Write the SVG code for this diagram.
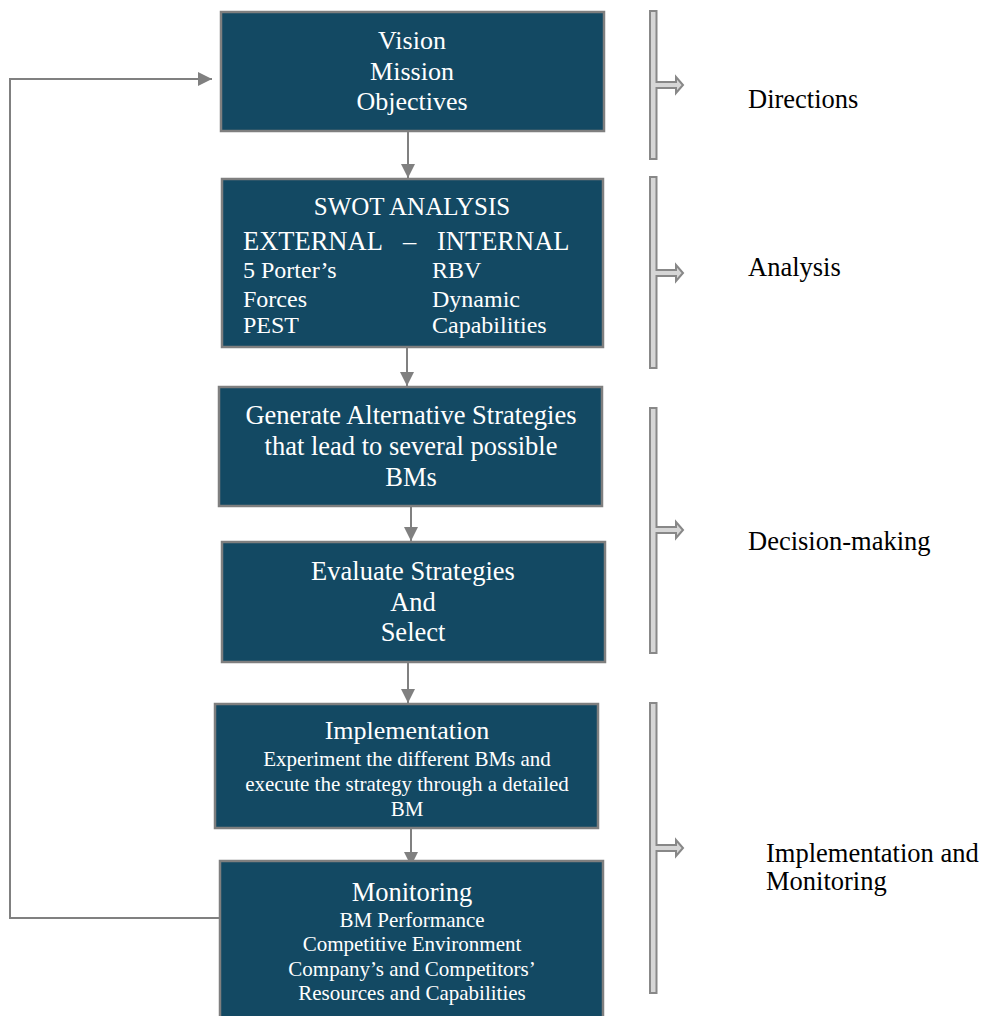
<svg xmlns="http://www.w3.org/2000/svg" width="982" height="1016" viewBox="0 0 982 1016">
<style>
.box{fill:#134963;stroke:#7f7f7f;stroke-width:2.5}
.t{font-family:"Liberation Serif","Times New Roman",serif;fill:#ffffff;text-anchor:middle}
.tl{font-family:"Liberation Serif","Times New Roman",serif;fill:#ffffff}
.lab{font-family:"Liberation Serif","Times New Roman",serif;fill:#000000;font-size:26.5px}
.conn{fill:none;stroke:#808080;stroke-width:2}
.brk{fill:#d6d6d6;stroke:#888888;stroke-width:2;stroke-linejoin:miter}
</style>
<defs>
<marker id="ah" viewBox="0 0 14 14" refX="14" refY="7" markerWidth="14" markerHeight="14" markerUnits="userSpaceOnUse" orient="auto">
<path d="M0,0 L14,7 L0,14 Z" fill="#808080"/>
</marker>
</defs>
<rect width="982" height="1016" fill="#ffffff"/>

<g id="connectors">
<path class="conn" d="M408,131 V178" marker-end="url(#ah)"/>
<path class="conn" d="M407,347 V386" marker-end="url(#ah)"/>
<path class="conn" d="M411,506 V541" marker-end="url(#ah)"/>
<path class="conn" d="M408,662 V703" marker-end="url(#ah)"/>
<path class="conn" d="M411,828 V866" marker-end="url(#ah)"/>
<path class="conn" d="M220,918 H10 V79 H212" marker-end="url(#ah)"/>
</g>

<g id="node-vision">
<rect class="box" x="221" y="12" width="383" height="119"/>
<text class="t" font-size="26" x="412" y="49">Vision</text>
<text class="t" font-size="26" x="412" y="80">Mission</text>
<text class="t" font-size="26" x="412" y="110">Objectives</text>
</g>

<g id="node-swot">
<rect class="box" x="222" y="179" width="381" height="168"/>
<text class="t" font-size="25" x="412" y="215">SWOT ANALYSIS</text>
<text class="tl" font-size="26.5" x="243" y="250">EXTERNAL</text>
<text class="tl" font-size="26.5" x="403" y="250">–</text>
<text class="tl" font-size="26.5" x="437" y="250">INTERNAL</text>
<text class="tl" font-size="24" x="243" y="278">5 Porter’s</text>
<text class="tl" font-size="24" x="243" y="307">Forces</text>
<text class="tl" font-size="24" x="243" y="333">PEST</text>
<text class="tl" font-size="24" x="432" y="278">RBV</text>
<text class="tl" font-size="24" x="432" y="307">Dynamic</text>
<text class="tl" font-size="24" x="432" y="333">Capabilities</text>
</g>

<g id="node-generate">
<rect class="box" x="219" y="387" width="383" height="119"/>
<text class="t" font-size="26.5" x="411" y="424">Generate Alternative Strategies</text>
<text class="t" font-size="26.5" x="411" y="455">that lead to several possible</text>
<text class="t" font-size="26.5" x="411" y="486">BMs</text>
</g>

<g id="node-evaluate">
<rect class="box" x="222" y="542" width="383" height="120"/>
<text class="t" font-size="26.5" x="413" y="580">Evaluate Strategies</text>
<text class="t" font-size="26.5" x="413" y="611">And</text>
<text class="t" font-size="26.5" x="413" y="641">Select</text>
</g>

<g id="node-implementation">
<rect class="box" x="215" y="704" width="383" height="124"/>
<text class="t" font-size="26" x="407" y="739">Implementation</text>
<text class="t" font-size="21" x="407" y="766">Experiment the different BMs and</text>
<text class="t" font-size="21" x="407" y="791">execute the strategy through a detailed</text>
<text class="t" font-size="21" x="407" y="816">BM</text>
</g>

<g id="node-monitoring">
<rect class="box" x="220" y="861" width="383" height="170"/>
<text class="t" font-size="26.5" x="412" y="901">Monitoring</text>
<text class="t" font-size="21" x="412" y="927">BM Performance</text>
<text class="t" font-size="21" x="412" y="951">Competitive Environment</text>
<text class="t" font-size="21" x="412" y="976">Company’s and Competitors’</text>
<text class="t" font-size="21" x="412" y="1000">Resources and Capabilities</text>
</g>

<g id="bracket-directions">
<path class="brk" d="M650,11 H656.5 V82 H676 V77 L683,85 L676,93 V88 H656.5 V159 H650 Z"/>
<text class="lab" x="748" y="108">Directions</text>
</g>
<g id="bracket-analysis">
<path class="brk" d="M650,177 H656.5 V270 H676 V265 L683,273 L676,281 V276 H656.5 V368 H650 Z"/>
<text class="lab" x="748" y="276">Analysis</text>
</g>
<g id="bracket-decision">
<path class="brk" d="M650,408 H656.5 V527 H676 V522 L683,530 L676,538 V533 H656.5 V653 H650 Z"/>
<text class="lab" x="748" y="550">Decision-making</text>
</g>
<g id="bracket-implementation">
<path class="brk" d="M650,703 H656.5 V845 H676 V840 L683,848 L676,856 V851 H656.5 V993 H650 Z"/>
<text class="lab" x="766" y="862">Implementation and</text>
<text class="lab" x="766" y="890">Monitoring</text>
</g>
</svg>
